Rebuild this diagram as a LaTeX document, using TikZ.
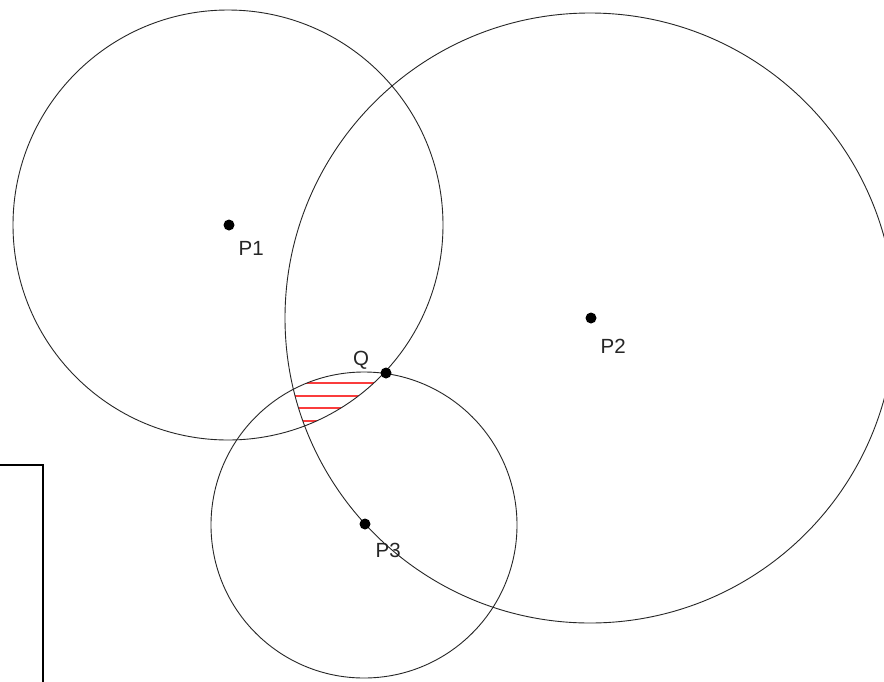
\documentclass[tikz,border=0pt]{standalone}
\usepackage{fontspec}
\setmainfont{Liberation Sans}
\begin{document}
\begin{tikzpicture}[x=1pt,y=-1pt,
  ring/.style={draw=black!85,line width=0.9pt},
  dotnode/.style={circle,fill=black,inner sep=0pt,minimum size=11pt},
  lab/.style={anchor=base west,inner sep=0pt,font=\fontsize{20.5}{22}\selectfont,text=black!85},
  hatch/.style={draw={rgb,255:red,250;green,60;blue,60},line width=1.5pt}]
\useasboundingbox (0,0) rectangle (884,681);
\clip (0,0) rectangle (884,681);
\fill[white] (0,0) rectangle (884,681);
% hatched region
\begin{scope}
  \clip (228,225) circle (215);
  \clip (590,318) circle (305);
  \clip (364,525) circle (153);
  \foreach \yy in {383,396,408,421}
    \draw[hatch] (270,\yy) -- (410,\yy);
\end{scope}
% circles
\draw[ring] (228,225) circle (215);
\draw[ring] (590,318) circle (305);
\draw[ring] (364,525) circle (153);
% box
\draw[black,line width=1.8pt] (-5,465) -- (43,465) -- (43,690);
% points
\node[dotnode] (p1) at (229,225) {};
\node[dotnode] (p2) at (591,318) {};
\node[dotnode] (p3) at (365,524) {};
\node[dotnode] (q) at (386,373) {};
\node[lab] (l1) at (238.5,255) {P1};
\node[lab] (l2) at (600.5,353) {P2};
\node[lab] (l3) at (375.5,557) {P3};
\node[lab] (lq) at (353,365) {Q};
\end{tikzpicture}
\end{document}
